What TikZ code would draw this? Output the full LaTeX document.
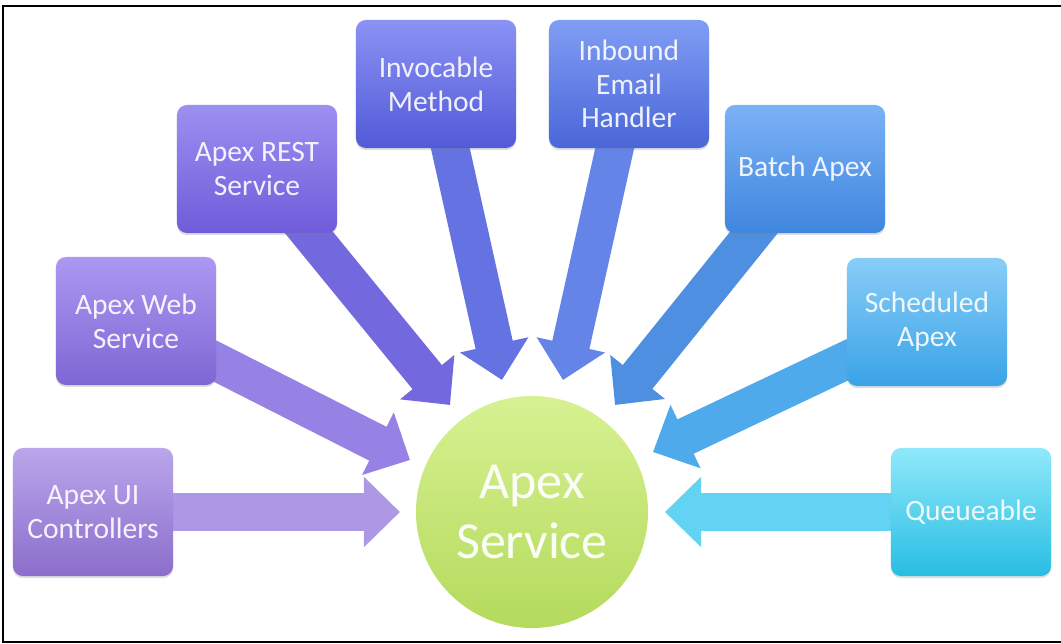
\documentclass[tikz,border=0pt]{standalone}
\usepackage{fontspec}
\setmainfont{Carlito}
\usetikzlibrary{arrows.meta,backgrounds,shadows}
\definecolor{uiT}{HTML}{BAA6EB}\definecolor{uiB}{HTML}{8B6ECC}\definecolor{uiF}{HTML}{AD98E6}
\definecolor{wsT}{HTML}{AB98F1}\definecolor{wsB}{HTML}{7F66D4}\definecolor{wsF}{HTML}{9582E4}
\definecolor{rsT}{HTML}{9C90F1}\definecolor{rsB}{HTML}{6E5CDA}\definecolor{rsF}{HTML}{7468DF}
\definecolor{imT}{HTML}{8B92F3}\definecolor{imB}{HTML}{525AD8}\definecolor{imF}{HTML}{6472E2}
\definecolor{ibT}{HTML}{809DF4}\definecolor{ibB}{HTML}{4A66D8}\definecolor{ibF}{HTML}{6584E8}
\definecolor{baT}{HTML}{7BB1F6}\definecolor{baB}{HTML}{3F86DE}\definecolor{baF}{HTML}{4F8FE2}
\definecolor{scT}{HTML}{88CDF8}\definecolor{scB}{HTML}{3AA3E6}\definecolor{scF}{HTML}{4EAAEA}
\definecolor{quT}{HTML}{90E9FA}\definecolor{quB}{HTML}{28BDE3}\definecolor{quF}{HTML}{62D3F2}
\definecolor{coreT}{HTML}{D7F192}\definecolor{coreB}{HTML}{B4DA5C}
\tikzset{
  srcbox/.style={rounded corners=7pt, minimum width=4cm, minimum height=3.2cm,
    align=center, text=white, text opacity=0.9, font=\fontsize{21}{24}\selectfont,
    drop shadow={shadow xshift=0pt, shadow yshift=-1.5pt, opacity=0.25}},
  feed/.style={line width=0.95cm, -{Triangle[length=0.9cm, width=1.7cm]}}
}

\begin{document}
\begin{tikzpicture}[x=0.025cm, y=-0.025cm]
  \useasboundingbox (0,0) rectangle (1061,644);
  \draw[line width=1.4pt] (1062,6) -- (3,6) -- (3,642) -- (1062,642);

  \foreach \n/\x/\y/\t in {ui/93/512/{Apex UI\\Controllers},
      ws/136/321/{Apex Web\\Service}, rs/257/169/{Apex REST\\Service},
      im/436/84/{Invocable\\Method}, ib/629/84/{Inbound\\Email\\Handler},
      ba/805/169/{Batch Apex}, sc/927/322/{Scheduled\\Apex},
      qu/971/512/{Queueable}}{
    \node[srcbox, top color=\n T, bottom color=\n B] (\n) at (\x,\y) {\t};
  }

  \node[circle, minimum size=5.8cm, top color=coreT, bottom color=coreB,
    align=center, text=white, text opacity=0.95,
    font=\fontsize{37}{43}\selectfont] (core) at (532,512) {Apex\\Service};

  % tips of the arrows
  \coordinate (tui) at (400,512);
  \coordinate (tws) at (410,460);
  \coordinate (trs) at (450,405);
  \coordinate (tim) at (502,380);
  \coordinate (tib) at (563,380);
  \coordinate (tba) at (615,405);
  \coordinate (tsc) at (653,452);
  \coordinate (tqu) at (665,512);

  \begin{scope}[on background layer]
    \foreach \n in {ui,ws,rs,im,ib,ba,sc,qu}
      \draw[feed, draw=\n F] (\n.center) -- (t\n);
  \end{scope}
\end{tikzpicture}
\end{document}
